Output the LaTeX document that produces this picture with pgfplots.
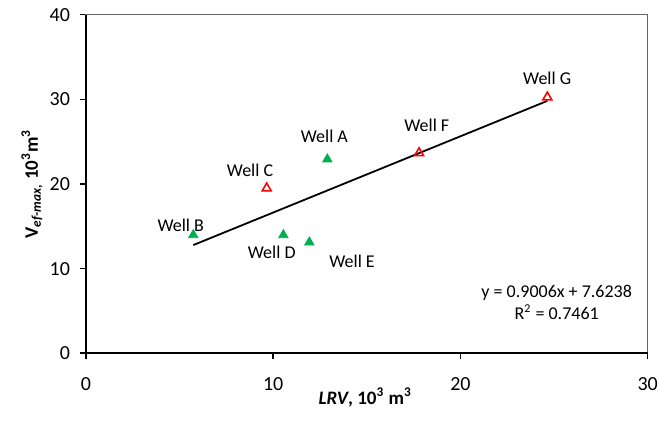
\documentclass[border=0pt]{standalone}
\usepackage{pgfplots}
\pgfplotsset{compat=1.18}
\usepackage{fontspec}
\setmainfont{Carlito}
\definecolor{xlgreen}{HTML}{00B050}
\definecolor{xlred}{HTML}{FF0000}
\begin{document}
\begin{tikzpicture}
\useasboundingbox (-43pt,-33.85pt) rectangle (287pt,176.65pt);
\begin{axis}[
 scale only axis, width=280.85pt, height=169.3pt,
 xmin=0, xmax=30, ymin=0, ymax=40,
 xtick={0,10,20,30}, ytick={0,10,20,30,40},
 tick pos=left, tick align=outside, major tick length=3pt,
 tick style={black, line width=0.8pt},
 axis line style={black!60, line width=0.5pt},
 /pgf/number format/assume math mode=true,
 ticklabel style={font=\fontsize{10}{12}\selectfont},
 xticklabel style={yshift=-5.5pt},
 yticklabel style={xshift=-1.5pt},
 label style={font=\fontsize{9.5}{11}\selectfont\bfseries},
 xlabel={\textit{LRV}, 10\textsuperscript{3} m\textsuperscript{3}},
 ylabel={V\textsubscript{\textit{ef-max},} 10\textsuperscript{3}m\textsuperscript{3}},
 xlabel style={at={(axis description cs:0.497,-0.13)}, anchor=center},
 ylabel style={at={(axis description cs:-0.096,0.5)}, anchor=center},
 clip=false,
]
% trend line
\addplot[black, line width=0.9pt] coordinates {(5.73,12.784) (24.64,29.815)};
% green filled triangles: Wells A, B, D, E
\addplot[only marks, mark=triangle*, mark size=2.7pt, color=xlgreen, fill=xlgreen] coordinates {
 (12.89,22.92) (5.73,13.97) (10.54,13.97) (11.93,13.11)};
% red open triangles: Wells C, F, G
\addplot[only marks, mark=triangle, mark size=2.6pt, color=xlred, line width=0.8pt] coordinates {
 (9.65,19.49) (17.79,23.66) (24.64,30.24)};
\draw[black, line width=1pt] (rel axis cs:0,1) -- (rel axis cs:0,0) -- (rel axis cs:1,0);
\begin{scope}[font=\fontsize{9}{11}\selectfont]
\node at (axis cs:12.73,25.67) {Well A};
\node at (axis cs:5.06,15.07) {Well B};
\node at (axis cs:8.76,21.65) {Well C};
\node at (axis cs:9.92,11.93) {Well D};
\node at (axis cs:14.21,10.82) {Well E};
\node at (axis cs:18.2,26.97) {Well F};
\node at (axis cs:24.63,32.5) {Well G};
\node[align=center] at (axis cs:25.14,5.97) {y = 0.9006x + 7.6238\\R\textsuperscript{2} = 0.7461};
\end{scope}
\end{axis}
\end{tikzpicture}
\end{document}
